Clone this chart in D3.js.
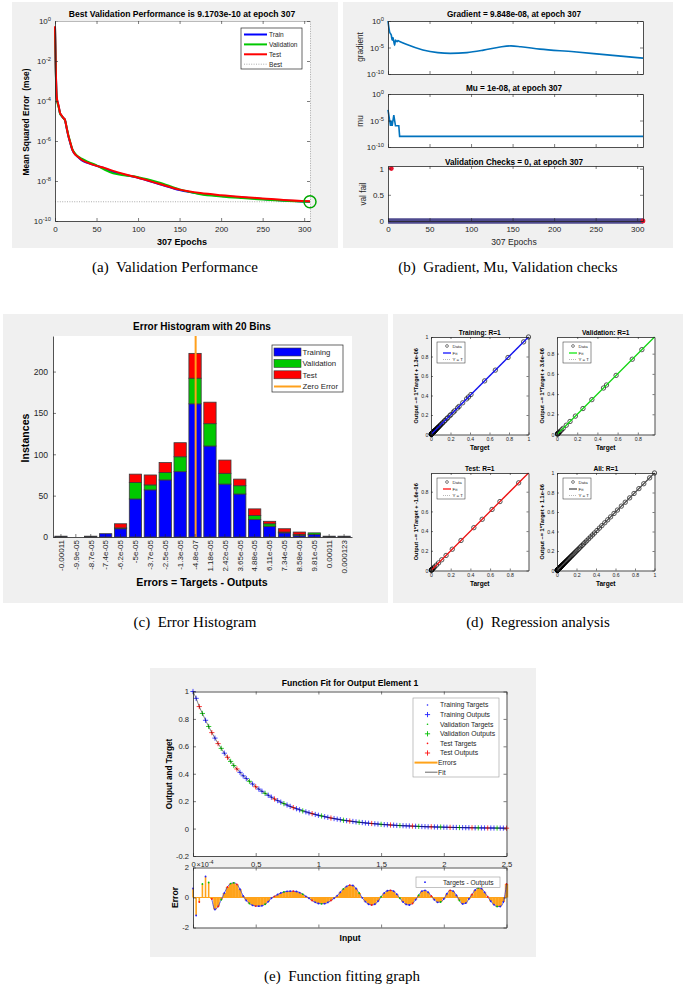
<!DOCTYPE html>
<html>
<head>
<meta charset="utf-8">
<script src="https://cdn.jsdelivr.net/npm/d3@7"></script>
<style>
  body { margin: 0; background: #fff; }
  text { font-family: "Liberation Sans", Arial, sans-serif; fill: #262626; }
  .ttl { fill: #000; font-weight: bold; }
  .cap { font-family: "Liberation Serif", "Times New Roman", serif; fill: #000; white-space: pre; }
</style>
</head>
<body>
<script>
// ---------- (a) performance ----------
const perfEpochs = [0,1,2,3,4,5,6,8,10,12,14,16,18,21,24,27,32,40,50,60,70,85,100,125,150,175,200,225,250,275,307];
const perfTrain = [5e-1,3.2e-3,1.6e-4,8.9e-5,6.3e-5,4e-5,2.5e-5,1.8e-5,1.4e-5,1.1e-5,4.5e-6,1.8e-6,8.9e-7,3.5e-7,2.2e-7,1.7e-7,1.1e-7,7.9e-8,5.8e-8,4.2e-8,2.9e-8,2e-8,1.45e-8,7.1e-9,3.5e-9,2.3e-9,1.8e-9,1.5e-9,1.26e-9,1.07e-9,9.17e-10];
const perfVal = [5e-1,2.5e-3,1.3e-4,7.9e-5,5.6e-5,3.8e-5,2.4e-5,1.8e-5,1.4e-5,1.1e-5,4.8e-6,2e-6,1e-6,3.8e-7,2.4e-7,1.8e-7,1.3e-7,9e-8,6e-8,3.6e-8,2.4e-8,1.9e-8,1.55e-8,8.5e-9,3.8e-9,2.2e-9,1.7e-9,1.4e-9,1.18e-9,1.02e-9,9.17e-10];
const perfTest = [5.5e-1,3.5e-3,1.7e-4,9.5e-5,6.6e-5,4.2e-5,2.6e-5,1.9e-5,1.45e-5,1.15e-5,4.6e-6,1.9e-6,9.5e-7,3.6e-7,2.2e-7,1.7e-7,1.15e-7,8e-8,5.7e-8,4.4e-8,3.2e-8,2.1e-8,1.45e-8,7.3e-9,3.7e-9,2.5e-9,1.95e-9,1.6e-9,1.35e-9,1.12e-9,9.6e-10];
const bestEpoch = 307, bestPerf = 9.1703e-10;

// ---------- (b) training state ----------
const gradEpochs = [0,1,2,3,4,5,6,7,8,9,10,11,12,14,22,42,60,75,95,115,135,148,160,183,224,264,307];
const gradValues = [1,6.3e-2,7.9e-3,4e-3,2e-3,2.5e-4,7.9e-4,1.26e-4,2.5e-5,2.5e-4,1.6e-4,1.26e-4,2e-4,1.4e-4,4e-5,3.5e-6,1.1e-6,7.9e-7,1.1e-6,3.2e-6,1.26e-5,2e-5,1.4e-5,5e-6,1.6e-6,4e-7,9.848e-8];
const muEpochs = [0,1,2,3,4,5,6,7,8,9,13,14,307];
const muValues = [1e-3,1e-4,1e-5,1e-6,1e-5,1e-6,1e-5,1e-4,1e-5,1e-6,1e-6,1e-8,1e-8];
const valFailLastEpoch = 307;
const valFailRed = [[4, 1], [307, 0]];

// ---------- (c) error histogram ----------
const binLabels = ["-0.00011","-9.9e-05","-8.7e-05","-7.4e-05","-6.2e-05","-5e-05","-3.7e-05","-2.5e-05","-1.3e-05","-4.8e-07","1.18e-05","2.42e-05","3.65e-05","4.88e-05","6.11e-05","7.34e-05","8.58e-05","9.81e-05","0.00011","0.000123"];
const histTrain = [1,0,1,4,10,46,57,69,79,161,110,64,52,21,13,5,2,3,1,1];
const histVal   = [0,0,0,0,1,20,6,9,18,31,27,13,10,5,3,1,1,2,0,0];
const histTest  = [0,0,0,0,5,10,12,12,17,30,26,16,8,8,3,4,3,0,0,0];

// ---------- (d) regression ----------
const regTitles = ["Training: R=1", "Validation: R=1", "Test: R=1", "All: R=1"];
const regLabels = ["Output ~= 1*Target + 1.3e-06", "Output ~= 1*Target + 3.6e-06", "Output ~= 1*Target + -1.6e-06", "Output ~= 1*Target + 1.1e-06"];
const regMax = [1, 0.965, 0.99, 1];

// ---------- (e) function fit ----------
const fitInput = d3.range(0, 101).map(i => i * 0.025);
const fitTarget = [1.0,0.95,0.89,0.84,0.79,0.745,0.70,0.66,0.62,0.585,
  0.55,0.52,0.49,0.46,0.435,0.41,0.385,0.365,0.345,0.325,
  0.305,0.288,0.272,0.257,0.243,0.229,0.216,0.204,0.193,0.182,
  0.172,0.162,0.153,0.145,0.137,0.129,0.122,0.115,0.109,0.103,
  0.097,0.092,0.087,0.082,0.077,0.073,0.069,0.065,0.061,0.058,
  0.055,0.052,0.049,0.046,0.044,0.041,0.039,0.037,0.035,0.033,
  0.031,0.029,0.028,0.026,0.025,0.023,0.022,0.021,0.020,0.019,
  0.018,0.017,0.016,0.015,0.014,0.013,0.013,0.012,0.011,0.011,
  0.010,0.0095,0.009,0.0085,0.008,0.0075,0.007,0.0066,0.0062,0.0059,
  0.0056,0.0053,0.005,0.0047,0.0044,0.0042,0.004,0.0037,0.0035,0.0033,
  0.0031];
// errors in units of 1e-4
const fitError = [0.6,-1.2,-0.3,0.9,1.4,1.0,-0.1,-0.8,-0.6,-0.15,
  0.3,0.7,0.93,0.98,0.88,0.55,0.1,-0.2,-0.4,-0.52,
  -0.57,-0.58,-0.55,-0.45,-0.28,-0.05,0.08,0.2,0.3,0.37,
  0.41,0.42,0.42,0.4,0.33,0.22,0.08,-0.05,-0.2,-0.32,
  -0.4,-0.42,-0.41,-0.33,-0.2,-0.05,0.12,0.35,0.58,0.74,
  0.82,0.8,0.6,0.3,-0.02,-0.28,-0.45,-0.5,-0.45,-0.25,
  0.05,0.3,0.45,0.48,0.42,0.22,-0.05,-0.3,-0.46,-0.5,
  -0.4,-0.15,0.15,0.42,0.47,0.35,0.1,-0.15,-0.32,-0.3,
  -0.1,0.25,0.48,0.42,0.15,-0.2,-0.43,-0.38,-0.1,0.2,
  0.5,0.64,0.6,0.35,0.05,-0.25,-0.48,-0.6,-0.6,-0.3,
  0.9];
// T = training, V = validation, S = test
const fitSet = ("TTSVTVSTSV" + "TSVVSTTTVT" + "STTVTTSTTV" + "TTSTTVTTST" + "TVTTSTTTVT" +
  "STTVTTTSTT" + "VTTSTTVTTT" + "STVTTTSTTV" + "TTSTTVTTTS" + "TVTTSTTVTT" + "S").split("");

// ================= drawing =================
const ink = "#262626";
const svg = d3.select("body").append("svg").attr("width", 685).attr("height", 989).style("display", "block");

function panelBg(x, y, w, h) {
  svg.append("rect").attr("x", x).attr("y", y).attr("width", w).attr("height", h).attr("fill", "#f0f0f0");
}

function plotArea(g, xs, ys) {
  const [x0, x1] = xs.range(), [yb, yt] = ys.range();
  g.append("rect").attr("x", x0).attr("y", yt).attr("width", x1 - x0).attr("height", yb - yt).attr("fill", "#fff");
}

function styleAxis(sel, fs) {
  sel.attr("font-family", null).attr("font-size", fs).attr("color", ink);
  sel.selectAll("path.domain").attr("stroke-width", 0.8);
  sel.selectAll(".tick line").attr("stroke-width", 0.6);
  return sel;
}

const blank = () => "";

// MATLAB-like box with inward ticks
function frame(g, xs, ys, o) {
  const tk = o.tick ?? 3, fs = o.fs ?? 8;
  const [x0, x1] = xs.range(), [yb, yt] = ys.range();
  const out = {};
  out.b = styleAxis(g.append("g").attr("transform", `translate(0,${yb})`)
    .call(d3.axisBottom(xs).tickValues(o.xt).tickSize(-tk).tickSizeOuter(0).tickPadding(o.xpad ?? 3).tickFormat(o.xfmt || blank)), fs);
  out.l = styleAxis(g.append("g").attr("transform", `translate(${x0},0)`)
    .call(d3.axisLeft(ys).tickValues(o.yt).tickSize(-tk).tickSizeOuter(0).tickPadding(o.ypad ?? 3).tickFormat(o.yfmt || blank)), fs);
  if (o.box !== false) {
    out.t = styleAxis(g.append("g").attr("transform", `translate(0,${yt})`)
      .call(d3.axisTop(xs).tickValues(o.xt).tickSize(-tk).tickSizeOuter(0).tickFormat(blank)), fs);
    out.r = styleAxis(g.append("g").attr("transform", `translate(${x1},0)`)
      .call(d3.axisRight(ys).tickValues(o.yt).tickSize(-tk).tickSizeOuter(0).tickFormat(blank)), fs);
  }
  return out;
}

function logLabels(axisSel) {
  axisSel.selectAll(".tick text").each(function (d) {
    const t = d3.select(this).text(null);
    t.append("tspan").text("10");
    t.append("tspan").attr("dy", "-0.45em").attr("font-size", "0.72em").text(Math.round(Math.log10(d)));
  });
}

function label(g, x, y, txt, fs, o = {}) {
  const t = g.append("text").attr("x", x).attr("y", y).attr("font-size", fs)
    .attr("text-anchor", o.anchor || "middle").text(txt);
  if (o.bold) t.attr("font-weight", "bold");
  if (o.cls) t.attr("class", o.cls);
  if (o.rot) t.attr("transform", `rotate(-90,${x},${y})`);
  if (o.pre) t.style("white-space", "pre");
  return t;
}

function caption(x, y, txt) {
  svg.append("text").attr("class", "cap").attr("x", x).attr("y", y).attr("font-size", 15)
    .attr("text-anchor", "middle").text(txt);
}

panelBg(12, 2, 326, 246);
panelBg(343, 2, 330, 246);
panelBg(3, 314, 385, 289);
panelBg(393, 314, 290, 289);
panelBg(150, 668, 386, 289);

// ---------- (a) ----------
{
  const g = svg.append("g");
  const xs = d3.scaleLinear().domain([0, 307]).range([55, 310]);
  const ys = d3.scaleLog().domain([1e-10, 1]).range([221, 21]);
  plotArea(g, xs, ys);
  g.append("line").attr("x1", xs(0)).attr("x2", xs(307)).attr("y1", ys(bestPerf)).attr("y2", ys(bestPerf))
    .attr("stroke", "#8a8a8a").attr("stroke-width", 0.7).attr("stroke-dasharray", "1,1.4");
  const line = d3.line().x((d, i) => xs(perfEpochs[i])).y(d => ys(d)).curve(d3.curveMonotoneX);
  [[perfTrain, "#0000ff"], [perfVal, "#00c800"], [perfTest, "#ff0000"]].forEach(([s, c]) => {
    g.append("path").attr("d", line(s)).attr("fill", "none").attr("stroke", c).attr("stroke-width", 2);
  });
  const ax = frame(g, xs, ys, { xt: d3.range(0, 301, 50), yt: [1e-10, 1e-8, 1e-6, 1e-4, 1e-2, 1],
    xfmt: d => d, yfmt: d => d, fs: 8, xpad: 5, ypad: 4 });
  logLabels(ax.l);
  ax.t.select("path.domain").attr("stroke", "#a8a8a8");
  ax.r.select("path.domain").attr("stroke", "#9a9a9a").attr("stroke-dasharray", "1,1.4");
  g.append("circle").attr("cx", xs(bestEpoch)).attr("cy", ys(bestPerf)).attr("r", 6)
    .attr("fill", "none").attr("stroke", "#00a800").attr("stroke-width", 1.5);
  label(g, 182, 17, "Best Validation Performance is 9.1703e-10 at epoch 307", 8.6, { cls: "ttl" });
  label(g, 182, 245, "307 Epochs", 9, { cls: "ttl" });
  label(g, 29, 122, "Mean Squared Error  (mse)", 8.4, { cls: "ttl", rot: true, pre: true });
  // legend
  const lg = g.append("g");
  lg.append("rect").attr("x", 241).attr("y", 28).attr("width", 61).attr("height", 41)
    .attr("fill", "#fff").attr("stroke", ink).attr("stroke-width", 0.7);
  [["Train", "#0000ff"], ["Validation", "#00c800"], ["Test", "#ff0000"], ["Best", "#8a8a8a"]].forEach(([n, c], i) => {
    const y = 34.5 + i * 9.9;
    lg.append("line").attr("x1", 244).attr("x2", 267).attr("y1", y).attr("y2", y).attr("stroke", c)
      .attr("stroke-width", i < 3 ? 2 : 0.7).attr("stroke-dasharray", i < 3 ? null : "1,1.4");
    label(lg, 269, y + 2.3, n, 6.6, { anchor: "start" });
  });
  caption(175, 272, "(a)  Validation Performance");
}

// ---------- (b) ----------
{
  const g = svg.append("g");
  const xs = d3.scaleLinear().domain([0, 307]).range([388, 643]);
  const xt = d3.range(0, 301, 50);
  const blue = "#0072bd";

  const y1 = d3.scaleLog().domain([1e-10, 1]).range([74, 21]);
  plotArea(g, xs, y1);
  g.append("path").attr("d", d3.line().x((d, i) => xs(gradEpochs[i])).y(d => y1(d)).curve(d3.curveMonotoneX)(gradValues))
    .attr("fill", "none").attr("stroke", blue).attr("stroke-width", 1.6);
  logLabels(frame(g, xs, y1, { xt, yt: [1e-10, 1e-5, 1], yfmt: d => d, fs: 8, ypad: 4 }).l);

  const y2 = d3.scaleLog().domain([1e-10, 1]).range([147, 94]);
  plotArea(g, xs, y2);
  g.append("path").attr("d", d3.line().x((d, i) => xs(muEpochs[i])).y(d => y2(d))(muValues))
    .attr("fill", "none").attr("stroke", blue).attr("stroke-width", 1.6);
  logLabels(frame(g, xs, y2, { xt, yt: [1e-10, 1e-5, 1], yfmt: d => d, fs: 8, ypad: 4 }).l);

  const y3 = d3.scaleLinear().domain([0, 1.05]).range([221, 166]);
  plotArea(g, xs, y3);
  g.append("line").attr("x1", xs(0)).attr("x2", xs(valFailLastEpoch)).attr("y1", y3(0)).attr("y2", y3(0))
    .attr("stroke", "#4e4a8e").attr("stroke-width", 5.5);
  g.selectAll("circle.vf").data(valFailRed).join("circle").attr("class", "vf")
    .attr("cx", d => xs(d[0])).attr("cy", d => y3(d[1])).attr("r", 2.4).attr("fill", "#e8102a");
  frame(g, xs, y3, { xt, yt: [0, 0.5, 1], xfmt: d => d, yfmt: d => d, fs: 8, xpad: 5, ypad: 4 });

  label(g, 514, 17, "Gradient = 9.848e-08, at epoch 307", 8.2, { cls: "ttl" });
  label(g, 514, 90.5, "Mu = 1e-08, at epoch 307", 8.2, { cls: "ttl" });
  label(g, 514, 164.5, "Validation Checks = 0, at epoch 307", 8.2, { cls: "ttl" });
  label(g, 363, 47, "gradient", 8.2, { rot: true });
  label(g, 363, 121, "mu", 8.2, { rot: true });
  label(g, 366, 194, "val fail", 8.2, { rot: true });
  label(g, 514, 245, "307 Epochs", 8.6);
  caption(508, 272, "(b)  Gradient, Mu, Validation checks");
}

// ---------- (c) ----------
{
  const g = svg.append("g");
  const xs = d3.scaleBand().domain(binLabels).range([53, 352]).paddingInner(0.175).paddingOuter(0.12);
  const ys = d3.scaleLinear().domain([0, 243]).range([537, 336]);
  plotArea(g, d3.scaleLinear().range([53, 352]), ys);
  const rows = binLabels.map((b, i) => ({ bin: b, Training: histTrain[i], Validation: histVal[i], Test: histTest[i] }));
  const stack = d3.stack().keys(["Training", "Validation", "Test"])(rows);
  const colors = { Training: "#0000ff", Validation: "#00c800", Test: "#ff0000" };
  stack.forEach(layer => {
    g.append("g").selectAll("rect").data(layer.filter(d => d[1] > d[0])).join("rect")
      .attr("x", d => xs(d.data.bin)).attr("width", xs.bandwidth())
      .attr("y", d => ys(d[1])).attr("height", d => ys(d[0]) - ys(d[1]))
      .attr("fill", colors[layer.key]).attr("stroke", "#3a3a3a").attr("stroke-width", 0.8);
  });
  // zero error line between bin centres
  const c9 = +binLabels[9], c10 = +binLabels[10];
  const cx9 = xs(binLabels[9]) + xs.bandwidth() / 2, cx10 = xs(binLabels[10]) + xs.bandwidth() / 2;
  const zx = cx9 + (0 - c9) / (c10 - c9) * (cx10 - cx9);
  g.append("line").attr("x1", zx).attr("x2", zx).attr("y1", ys(0)).attr("y2", ys(243))
    .attr("stroke", "#ffa01c").attr("stroke-width", 2);
  const ax = frame(g, xs, ys, { yt: [0, 50, 100, 150, 200], xfmt: d => d, yfmt: d => d, box: false, fs: 8.6, ypad: 5 });
  ax.b.selectAll(".tick text").attr("transform", "rotate(-90)").attr("x", -3).attr("y", 0)
    .attr("dy", "0.35em").attr("text-anchor", "end").attr("font-size", 8);
  label(g, 202, 330, "Error Histogram with 20 Bins", 10, { cls: "ttl" });
  label(g, 202, 586, "Errors = Targets - Outputs", 10.6, { cls: "ttl" });
  label(g, 29, 438, "Instances", 10.6, { cls: "ttl", rot: true });
  const lg = g.append("g");
  lg.append("rect").attr("x", 272).attr("y", 345).attr("width", 71).attr("height", 47)
    .attr("fill", "#fff").attr("stroke", ink).attr("stroke-width", 0.7);
  [["Training", "#0000ff"], ["Validation", "#00c800"], ["Test", "#ff0000"]].forEach(([n, c], i) => {
    const y = 352 + i * 11.4;
    lg.append("rect").attr("x", 274).attr("y", y - 4).attr("width", 27).attr("height", 8)
      .attr("fill", c).attr("stroke", "#3a3a3a").attr("stroke-width", 0.6);
    label(lg, 302.5, y + 2.8, n, 7.8, { anchor: "start" });
  });
  lg.append("line").attr("x1", 274).attr("x2", 301).attr("y1", 386.5).attr("y2", 386.5)
    .attr("stroke", "#ffa01c").attr("stroke-width", 2);
  label(lg, 302.5, 389.3, "Zero Error", 7.8, { anchor: "start" });
  caption(195, 627, "(c)  Error Histogram");
}

// ---------- (d) ----------
{
  const sets = [["T"], ["V"], ["S"], ["T", "V", "S"]];
  const fitColors = ["#0000ff", "#00e600", "#ff0000", "#444"];
  const origins = [[431, 337], [557, 337], [431, 473], [557, 473]];
  const size = 97.5;
  origins.forEach(([x0, y0], k) => {
    const g = svg.append("g");
    const m = regMax[k];
    const xs = d3.scaleLinear().domain([0, m]).range([x0, x0 + size]);
    const ys = d3.scaleLinear().domain([0, m]).range([y0 + size, y0]);
    plotArea(g, xs, ys);
    const pts = fitTarget.map((t, i) => [t, t - fitError[i] * 1e-4, fitSet[i]]).filter(d => sets[k].includes(d[2]));
    g.selectAll("circle").data(pts).join("circle")
      .attr("cx", d => xs(d[0])).attr("cy", d => ys(d[1])).attr("r", 2.2)
      .attr("fill", "none").attr("stroke", "#000").attr("stroke-width", 0.65);
    g.append("line").attr("x1", xs(0)).attr("y1", ys(0)).attr("x2", xs(m)).attr("y2", ys(m))
      .attr("stroke", fitColors[k]).attr("stroke-width", 1.3);
    g.append("line").attr("x1", xs(0)).attr("y1", ys(0)).attr("x2", xs(m)).attr("y2", ys(m))
      .attr("stroke", "#888").attr("stroke-width", 0.6).attr("stroke-dasharray", "1,1");
    const tv = [0, 0.2, 0.4, 0.6, 0.8, 1].filter(v => v <= m + 1e-9);
    frame(g, xs, ys, { xt: tv, yt: tv, xfmt: d => d, yfmt: d => d, fs: 5.2, tick: 2, xpad: 2.5, ypad: 2.5 });
    label(g, x0 + size / 2, y0 - 2.5, regTitles[k], 6.6, { cls: "ttl" });
    label(g, x0 + size / 2, y0 + size + 15, "Target", 6.6, { cls: "ttl" });
    label(g, x0 - 13, y0 + size / 2, regLabels[k], 5.6, { cls: "ttl", rot: true });
    // legend
    const lx = x0 + 6, ly = y0 + 5;
    g.append("rect").attr("x", lx).attr("y", ly).attr("width", 28).attr("height", 21)
      .attr("fill", "#fff").attr("stroke", ink).attr("stroke-width", 0.5);
    g.append("circle").attr("cx", lx + 10).attr("cy", ly + 4).attr("r", 1.4)
      .attr("fill", "none").attr("stroke", "#000").attr("stroke-width", 0.5);
    g.append("line").attr("x1", lx + 6).attr("x2", lx + 14).attr("y1", ly + 11).attr("y2", ly + 11)
      .attr("stroke", fitColors[k]).attr("stroke-width", 1.2);
    g.append("line").attr("x1", lx + 6).attr("x2", lx + 14).attr("y1", ly + 17.5).attr("y2", ly + 17.5)
      .attr("stroke", "#888").attr("stroke-width", 0.6).attr("stroke-dasharray", "1,1");
    [["Data", 4], ["Fit", 11], ["Y = T", 17.5]].forEach(([n, dy]) => {
      label(g, lx + 15.5, ly + dy + 1.5, n, 4.4, { anchor: "start" });
    });
  });
  caption(538, 627, "(d)  Regression analysis");
}

// ---------- (e) ----------
{
  const g = svg.append("g");
  const xs = d3.scaleLinear().domain([0, 2.5]).range([193, 506.5]);
  const yTop = d3.scaleLinear().domain([-0.2, 1]).range([856, 691.5]);
  const yErr = d3.scaleLinear().domain([-2, 2]).range([927.5, 867.5]);
  const setColor = { T: "#2020ff", V: "#00c000", S: "#ff1010" };
  const orange = "#ffa31a";
  const xt = [0, 0.5, 1, 1.5, 2, 2.5];
  const pts = fitInput.map((x, i) => ({ x, t: fitTarget[i], e: fitError[i], s: fitSet[i] }));

  // error subplot
  plotArea(g, xs, yErr);
  g.append("line").attr("x1", xs(0)).attr("x2", xs(2.5)).attr("y1", yErr(0)).attr("y2", yErr(0))
    .attr("stroke", orange).attr("stroke-width", 1);
  // early irregular stems stay thin, the smooth wave is filled by wide stems
  g.selectAll("line.stem").data(pts).join("line").attr("class", "stem")
    .attr("x1", d => xs(d.x)).attr("x2", d => xs(d.x)).attr("y1", yErr(0)).attr("y2", d => yErr(d.e))
    .attr("stroke", orange).attr("stroke-width", (d, i) => i < 6 ? 1.6 : 3.4);
  g.append("path").attr("d", d3.line().x(d => xs(d.x)).y(d => yErr(d.e)).curve(d3.curveMonotoneX)(pts.slice(6)))
    .attr("fill", "none").attr("stroke", "#3a3ad8").attr("stroke-width", 0.8);
  g.selectAll("circle.ep").data(pts).join("circle").attr("class", "ep")
    .attr("cx", d => xs(d.x)).attr("cy", d => yErr(d.e)).attr("r", 0.9).attr("fill", d => setColor[d.s]);
  frame(g, xs, yErr, { xt, yt: [-2, 0, 2], yfmt: d => d, fs: 7.6, ypad: 4 });
  g.append("rect").attr("x", 416).attr("y", 877).attr("width", 84).attr("height", 10.5)
    .attr("fill", "#fff").attr("stroke", "#9a9a9a").attr("stroke-width", 0.6);
  g.append("circle").attr("cx", 425).attr("cy", 882.2).attr("r", 0.9).attr("fill", "#2020ff");
  label(g, 443, 884.6, "Targets - Outputs", 6.6, { anchor: "start" });
  label(g, 178, 897.5, "Error", 8.6, { cls: "ttl", rot: true });
  label(g, 350, 940.5, "Input", 8.6, { cls: "ttl" });

  // fit subplot
  plotArea(g, xs, yTop);
  const plus = "M-2.6,0H2.6M0,-2.6V2.6";
  g.selectAll("path.out").data(pts).join("path").attr("class", "out")
    .attr("transform", d => `translate(${xs(d.x)},${yTop(d.t - d.e * 1e-4)})`).attr("d", plus)
    .attr("stroke", d => setColor[d.s]).attr("stroke-width", 1).attr("opacity", 0.8);
  g.selectAll("circle.tg").data(pts).join("circle").attr("class", "tg")
    .attr("cx", d => xs(d.x)).attr("cy", d => yTop(d.t)).attr("r", 0.7).attr("fill", d => setColor[d.s]);
  g.append("path").attr("d", d3.line().x(d => xs(d.x)).y(d => yTop(d.t)).curve(d3.curveMonotoneX)(pts))
    .attr("fill", "none").attr("stroke", "#000").attr("stroke-width", 0.5);
  const ax = frame(g, xs, yTop, { xt, yt: [-0.2, 0, 0.2, 0.4, 0.6, 0.8, 1], xfmt: d => d, yfmt: d => d, fs: 7.6, xpad: 6, ypad: 4 });
  ax.b.raise();
  const ex = g.append("text").attr("x", 196.5).attr("y", 866.5).attr("font-size", 7.2);
  ex.append("tspan").text("\u00d710");
  ex.append("tspan").attr("dy", "-0.45em").attr("font-size", "0.75em").text("-4");
  label(g, 350, 686, "Function Fit for Output Element 1", 8.6, { cls: "ttl" });
  label(g, 172, 774, "Output and Target", 8.2, { cls: "ttl", rot: true });

  // legend
  const lg = g.append("g");
  lg.append("rect").attr("x", 413).attr("y", 698).attr("width", 86).attr("height", 79)
    .attr("fill", "#fff").attr("stroke", "#9a9a9a").attr("stroke-width", 0.6);
  const items = [["Training Targets", "T", "dot"], ["Training Outputs", "T", "plus"], ["Validation Targets", "V", "dot"],
    ["Validation Outputs", "V", "plus"], ["Test Targets", "S", "dot"], ["Test Outputs", "S", "plus"], ["Errors", null, "err"], ["Fit", null, "fit"]];
  items.forEach(([n, s, kind], i) => {
    const y = 705 + i * 9.6;
    if (kind === "dot") lg.append("circle").attr("cx", 427.5).attr("cy", y).attr("r", 0.8).attr("fill", setColor[s]);
    if (kind === "plus") lg.append("path").attr("transform", `translate(427.5,${y})`).attr("d", plus)
      .attr("stroke", setColor[s]).attr("stroke-width", 0.9);
    if (kind === "err") lg.append("line").attr("x1", 414.5).attr("x2", 437.5).attr("y1", y).attr("y2", y)
      .attr("stroke", orange).attr("stroke-width", 2);
    if (kind === "fit") lg.append("line").attr("x1", 425).attr("x2", 437.5).attr("y1", y).attr("y2", y)
      .attr("stroke", "#000").attr("stroke-width", 0.6);
    label(lg, kind === "err" || kind === "fit" ? 438 : 440, y + 2.4, n, 6.8, { anchor: "start" });
  });
  caption(342, 981, "(e)  Function fitting graph");
}
</script>
</body>
</html>
